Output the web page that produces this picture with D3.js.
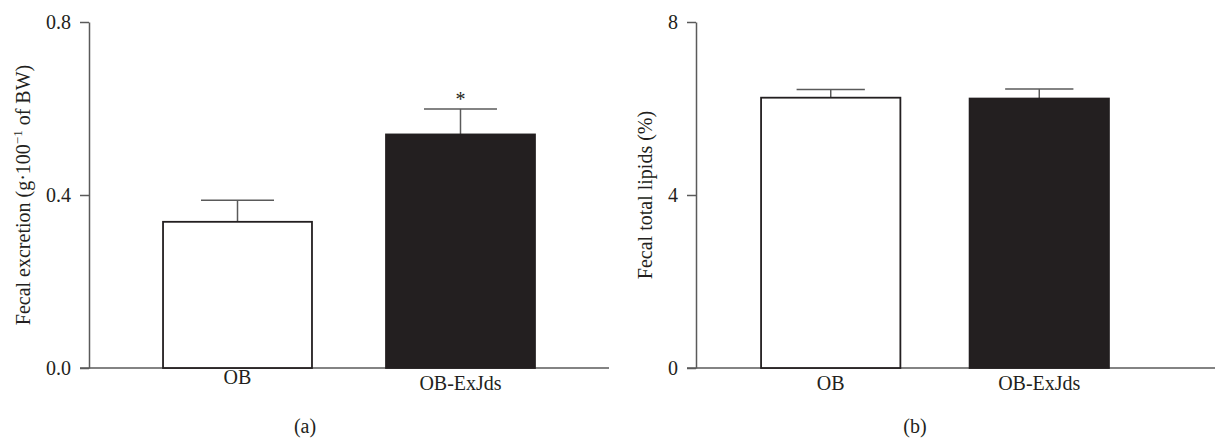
<!DOCTYPE html>
<meta charset="utf-8"/>
<style>
  body { margin: 0; background: #fff; }
  text { font-family: "Liberation Serif", "DejaVu Serif", serif; fill: #231f20; }
</style>
<svg width="1215" height="438"></svg>
<script src="https://d3js.org/d3.v7.min.js"></script>
<script>

var groups = ["OB", "OB-ExJds"];

// panel (a): fecal excretion
var excretionMean = [0.338, 0.540];
var excretionErr = [0.050, 0.059];
var excretionTicks = [0.0, 0.4, 0.8];

// panel (b): fecal total lipids
var lipidsMean = [6.25, 6.23];
var lipidsErr = [0.19, 0.22];
var lipidsTicks = [0, 4, 8];

var fills = ["#fff", "#231f20"];
var ink = "#231f20", axisInk = "#5a5a5a";

var svg = d3.select("svg"),
    yTop = 22, yBottom = 368;

function panel(p) {
  var g = svg.append("g");

  var x = d3.scaleBand()
      .domain(groups)
      .range(p.xRange)
      .paddingInner(0.332)
      .paddingOuter(p.outer);

  var y = d3.scaleLinear()
      .domain([0, p.ticks[p.ticks.length - 1]])
      .range([yBottom, yTop]);

  // baseline
  g.append("line")
      .attr("x1", p.xRange[0] - 9).attr("x2", p.lineEnd)
      .attr("y1", y(0)).attr("y2", y(0))
      .attr("stroke", axisInk).attr("stroke-width", 1.5);

  var yAxis = g.append("g")
      .attr("transform", "translate(" + p.xRange[0] + ",0)")
      .call(d3.axisLeft(y).tickValues(p.ticks).tickFormat(p.format)
        .tickSize(9).tickSizeOuter(0).tickPadding(9));
  yAxis.select(".domain").attr("stroke", axisInk).attr("stroke-width", 1.5);
  yAxis.selectAll(".tick line").attr("stroke", axisInk).attr("stroke-width", 1.5);
  yAxis.selectAll(".tick text")
      .attr("fill", ink)
      .style("font-family", "Liberation Serif")
      .style("font-size", "20px");

  var data = groups.map(function(k, i) {
    return {key: k, mean: p.mean[i], err: p.err[i], fill: fills[i]};
  });

  // error bars (upper half only)
  var eb = g.selectAll(".err").data(data).enter().append("g");
  eb.append("line")
      .attr("x1", function(d) { return x(d.key) + x.bandwidth() / 2; })
      .attr("x2", function(d) { return x(d.key) + x.bandwidth() / 2; })
      .attr("y1", function(d) { return y(d.mean); })
      .attr("y2", function(d) { return y(d.mean + d.err); })
      .attr("stroke", axisInk).attr("stroke-width", 1.5);
  eb.append("line")
      .attr("x1", function(d) { return x(d.key) + x.bandwidth() * 0.255; })
      .attr("x2", function(d) { return x(d.key) + x.bandwidth() * 0.745; })
      .attr("y1", function(d) { return y(d.mean + d.err); })
      .attr("y2", function(d) { return y(d.mean + d.err); })
      .attr("stroke", axisInk).attr("stroke-width", 1.5);

  g.selectAll(".bar").data(data).enter().append("rect")
      .attr("x", function(d) { return x(d.key); })
      .attr("y", function(d) { return y(d.mean); })
      .attr("width", x.bandwidth())
      .attr("height", function(d) { return y(0) - y(d.mean); })
      .attr("fill", function(d) { return d.fill; })
      .attr("stroke", ink).attr("stroke-width", 1.8);

  // category labels
  g.selectAll(".cat").data(data).enter().append("text")
      .attr("x", function(d) { return x(d.key) + x.bandwidth() / 2; })
      .attr("y", function(d, i) { return 390 + (p.shift[i] || 0); })
      .attr("text-anchor", "middle")
      .style("font-size", "20px")
      .text(function(d) { return d.key; });

  if (p.star) {
    data.forEach(function(d, i) {
      if (!p.star[i]) return;
      g.append("text")
          .attr("x", x(d.key) + x.bandwidth() / 2)
          .attr("y", y(d.mean + d.err) - 3)
          .attr("text-anchor", "middle")
          .style("font-size", "20px")
          .text("*");
    });
  }

  // y title
  var t = g.append("text")
      .attr("transform", "translate(" + p.titleX + "," + (yTop + yBottom) / 2 + ") rotate(-90)")
      .attr("text-anchor", "middle")
      .style("font-size", "20px");
  p.title(t);

  g.append("text")
      .attr("x", (p.xRange[0] + p.xRange[1]) / 2 + p.capShift)
      .attr("y", 433)
      .attr("text-anchor", "middle")
      .style("font-size", "20px")
      .text(p.caption);
}

panel({
  xRange: [89, 609], outer: 0.332, lineEnd: 609,
  ticks: excretionTicks, format: d3.format(".1f"),
  mean: excretionMean, err: excretionErr, star: [false, true],
  shift: [-6, 0],
  titleX: 30,
  title: function(t) {
    t.append("tspan").text("Fecal excretion (g·100");
    t.append("tspan").attr("dy", -8).style("font-size", "13px").text("−1");
    t.append("tspan").attr("dy", 8).text(" of BW)");
  },
  caption: "(a)", capShift: -44
});

panel({
  xRange: [696, 1174], outer: 0.312, lineEnd: 1215,
  ticks: lipidsTicks, format: d3.format("d"),
  mean: lipidsMean, err: lipidsErr,
  shift: [0, 0],
  titleX: 652,
  title: function(t) { t.text("Fecal total lipids (%)"); },
  caption: "(b)", capShift: -20
});

</script>
